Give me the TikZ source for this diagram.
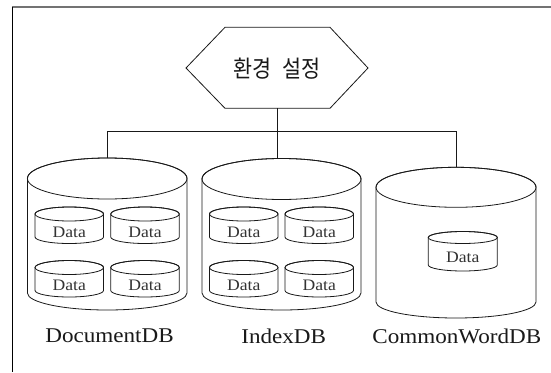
\documentclass[tikz,border=0pt]{standalone}
\usepackage{fontspec}
\setmainfont{Liberation Serif}
\newfontfamily\latinwide[FakeStretch=1.1]{Liberation Serif}
\newfontfamily\korean[FakeStretch=0.88,WordSpace=2.2]{Noto Sans CJK KR}
\begin{document}
\begin{tikzpicture}[x=1pt,y=1pt,
  outline/.style={draw=black!90,line width=0.8pt},
  link/.style={draw=black!90,line width=0.8pt},
  datatext/.style={font=\latinwide\fontsize{16}{16}\selectfont,text=black!80,inner sep=0pt},
  dblabel/.style={font=\latinwide\fontsize{21}{21}\selectfont,text=black!90,inner sep=0pt,anchor=base},
  titletext/.style={font=\korean\fontsize{23.5}{23.5}\selectfont,text=black!90,inner sep=0pt,anchor=base},
  % cylinder: width, cap y-radius, body height, bottom y-radius; origin = cap centre
  pics/drum/.style n args={4}{code={
    \path[outline,fill=white] (-#1/2,0) -- (-#1/2,-#3)
      arc[start angle=180,end angle=360,x radius=#1/2,y radius=#4] -- (#1/2,0)
      arc[start angle=0,end angle=180,x radius=#1/2,y radius=#2] -- cycle;
    \draw[outline] (0,0) ellipse[x radius=#1/2,y radius=#2];
  }},
  % small data cylinder with its label; 5th argument = label offset below cap centre
  pics/datadrum/.style n args={5}{code={
    \path[outline,fill=white] (-#1/2,0) -- (-#1/2,-#3)
      arc[start angle=180,end angle=360,x radius=#1/2,y radius=#4] -- (#1/2,0)
      arc[start angle=0,end angle=180,x radius=#1/2,y radius=#2] -- cycle;
    \draw[outline] (0,0) ellipse[x radius=#1/2,y radius=#2];
    \node[datatext] (-txt) at (0,-#5) {Data};
  }}
]
\useasboundingbox (0,0) rectangle (551,-372);
\fill[white] (0,0) rectangle (551,-372);

% page frame (top and left edges)
\draw[line width=1.3pt,black!55] (12,-7) -- (551,-7);
\draw[line width=0.9pt,black] (12.3,-7) -- (12.3,-372);

% settings hexagon
\draw[outline] (186,-68) -- (225,-27.3) -- (330,-27.3) -- (368,-68)
  -- (330,-108.3) -- (225,-108.3) -- cycle;
\node[titletext] (hex) at (277,-77) {환경 설정};
\coordinate (hexbot) at (277,-108.3);

% database cylinders
\pic (doc) at (107.2,-178.5) {drum={159.6}{20.5}{114.5}{17}};
\pic (idx) at (281.5,-179) {drum={159}{20.5}{114}{17}};
\pic (cw)  at (456,-187.3) {drum={160}{20}{114.7}{16}};

\coordinate (doctop) at (107.2,-158);
\coordinate (idxtop) at (281.5,-158.5);
\coordinate (cwtop)  at (456.5,-167.3);
\coordinate (bus) at (0,-131);

% connectors
\draw[link] (hexbot) -- (hexbot |- idxtop);
\draw[link] (doctop) -- (doctop |- bus) -| (cwtop);

% data stores inside DocumentDB
\pic (d1) at (69.3,-214)  {datadrum={68.5}{7}{23}{6.5}{18}};
\pic (d2) at (145,-214)   {datadrum={68.5}{7}{23}{6.5}{18}};
\pic (d3) at (69.3,-267.5){datadrum={68.5}{7}{23}{6.5}{18}};
\pic (d4) at (145,-267.5) {datadrum={68.5}{7}{23}{6.5}{18}};

% data stores inside IndexDB
\pic (i1) at (243.7,-214)  {datadrum={68.5}{7}{23}{6.5}{18}};
\pic (i2) at (319.2,-214)  {datadrum={68.5}{7}{23}{6.5}{18}};
\pic (i3) at (243.7,-267.5){datadrum={68.5}{7}{23}{6.5}{18}};
\pic (i4) at (319.2,-267.5){datadrum={68.5}{7}{23}{6.5}{18}};

% data store inside CommonWordDB
\pic (c1) at (462.8,-237.5) {datadrum={69}{6}{27.5}{6}{20}};

% captions
\node[dblabel] (doclabel) at (109.5,-342)  {DocumentDB};
\node[dblabel] (idxlabel) at (283.7,-343.5){IndexDB};
\node[dblabel] (cwlabel)  at (456.8,-343.5){CommonWordDB};
\end{tikzpicture}
\end{document}
